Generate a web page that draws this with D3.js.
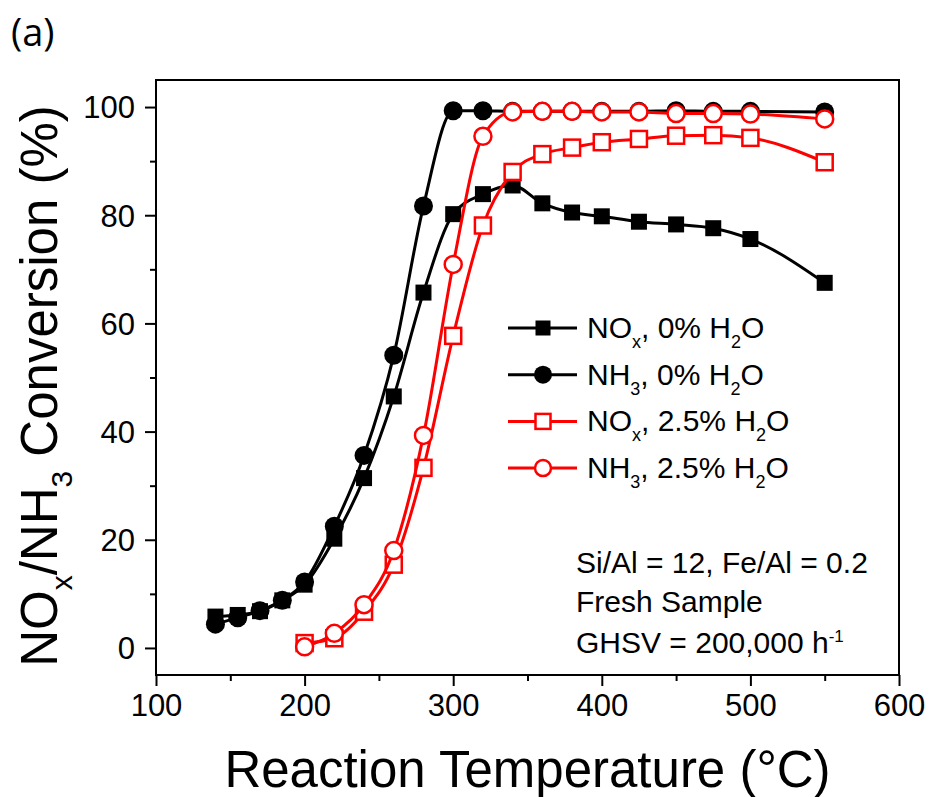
<!DOCTYPE html>
<html>
<head>
<meta charset="utf-8">
<script src="https://cdn.jsdelivr.net/npm/d3@7"></script>
<style>
  body { margin: 0; background: #fff; }
  text { font-family: "Liberation Sans", Arial, sans-serif; fill: #000; }
</style>
</head>
<body>
<div id="chart-area"></div>
<script>
// Data
const temps0 = [140, 155, 170, 185, 200, 220, 240, 260, 280, 300, 320, 340, 360, 380, 400, 425, 450, 475, 500, 550]
const noxDry = [5.8, 6.1, 6.8, 8.8, 11.7, 20.2, 31.4, 46.5, 65.7, 80.2, 83.9, 85.5, 82.2, 80.5, 79.8, 78.8, 78.3, 77.6, 75.6, 67.5]
const nh3Dry = [4.4, 5.6, 6.9, 8.8, 12.2, 22.5, 35.6, 54.1, 81.7, 99.3, 99.3, 99.2, 99.2, 99.2, 99.2, 99.2, 99.3, 99.2, 99.2, 99.1]

const temps25 = [200, 220, 240, 260, 280, 300, 320, 340, 360, 380, 400, 425, 450, 475, 500, 550]
const noxWet = [0.9, 1.8, 6.7, 15.4, 33.3, 57.7, 78.1, 88.0, 91.3, 92.5, 93.5, 94.1, 94.7, 94.8, 94.3, 89.8]
const nh3Wet = [0.2, 2.7, 8.0, 18.0, 39.3, 70.9, 94.6, 99.1, 99.2, 99.2, 99.1, 99.1, 98.8, 98.8, 98.7, 97.8]

const xTicks = [100, 200, 300, 400, 500, 600]
const xMinor = [150, 250, 350, 450, 550]
const yTicks = [0, 20, 40, 60, 80, 100]
const yMinor = [10, 30, 50, 70, 90]

// legend label pieces: [text, 'n' | 'sub']
const legendLabels = [
  [["NO", "n"], ["x", "sub"], [", 0% H", "n"], ["2", "sub"], ["O", "n"]],
  [["NH", "n"], ["3", "sub"], [", 0% H", "n"], ["2", "sub"], ["O", "n"]],
  [["NO", "n"], ["x", "sub"], [", 2.5% H", "n"], ["2", "sub"], ["O", "n"]],
  [["NH", "n"], ["3", "sub"], [", 2.5% H", "n"], ["2", "sub"], ["O", "n"]]
]

const series = [
  { x: temps0, y: noxDry, color: "#000", shape: "square", filled: true },
  { x: temps0, y: nh3Dry, color: "#000", shape: "circle", filled: true },
  { x: temps25, y: noxWet, color: "#ff0000", shape: "square", filled: false },
  { x: temps25, y: nh3Wet, color: "#ff0000", shape: "circle", filled: false }
]

const MARGIN = { LEFT: 156, RIGHT: 30, TOP: 80, BOTTOM: 122 }
const W = 929, H = 797
const WIDTH = W - MARGIN.LEFT - MARGIN.RIGHT
const HEIGHT = H - MARGIN.TOP - MARGIN.BOTTOM

const root = d3.select("#chart-area").append("svg")
  .attr("width", W)
  .attr("height", H)

const svg = root.append("g")
  .attr("transform", `translate(${MARGIN.LEFT},${MARGIN.TOP})`)

const x = d3.scaleLinear().domain([100, 600]).range([0, WIDTH])
const y = d3.scaleLinear().domain([-5, 105]).range([HEIGHT, 0])

// rich text helper (subscripts / superscripts)
function rich(sel, parts, size, subSize, shift) {
  let level = 0
  parts.forEach(([str, kind]) => {
    const target = kind === "sub" ? shift : kind === "sup" ? -shift : 0
    sel.append("tspan")
      .attr("dy", target - level)
      .style("font-size", (kind === "n" ? size : subSize) + "px")
      .text(str)
    level = target
  })
}

// axes
const xAxis = svg.append("g")
  .attr("transform", `translate(0,${HEIGHT})`)
  .call(d3.axisBottom(x).tickValues(xTicks).tickSize(11).tickSizeOuter(0).tickPadding(8))
xAxis.append("g")
  .call(d3.axisBottom(x).tickValues(xMinor).tickSize(6).tickFormat(""))
  .select(".domain").remove()

const yAxis = svg.append("g")
  .call(d3.axisLeft(y).tickValues(yTicks).tickSize(11).tickSizeOuter(0).tickPadding(10))
yAxis.append("g")
  .call(d3.axisLeft(y).tickValues(yMinor).tickSize(6).tickFormat(""))
  .select(".domain").remove()

svg.selectAll(".domain").remove()
svg.selectAll(".tick line").attr("stroke", "#000").attr("stroke-width", 2)
svg.selectAll(".tick text")
  .style("font-size", "31px")
  .style("font-family", "'Liberation Sans', Arial, sans-serif")
yAxis.selectAll(".tick text").attr("dy", "0.35em")

// frame
svg.append("rect")
  .attr("width", WIDTH)
  .attr("height", HEIGHT)
  .attr("fill", "none")
  .attr("stroke", "#000")
  .attr("stroke-width", 2)

// series
const line = d3.line()
  .x(d => x(d[0]))
  .y(d => y(d[1]))
  .curve(d3.curveMonotoneX)

function drawMarker(g, shape, filled, color, cx, cy, big) {
  const sq = big ? 16 : 15
  const r = big ? 9.5 : 9
  if (shape === "square") {
    g.append("rect")
      .attr("x", cx - sq / 2).attr("y", cy - sq / 2)
      .attr("width", sq).attr("height", sq)
      .attr("fill", filled ? color : "#fff")
      .attr("stroke", color)
      .attr("stroke-width", filled ? 0 : 2.5)
  } else {
    g.append("circle")
      .attr("cx", cx).attr("cy", cy).attr("r", filled ? r : r - 1)
      .attr("fill", filled ? color : "#fff")
      .attr("stroke", color)
      .attr("stroke-width", filled ? 0 : 2.5)
  }
}

series.forEach(s => {
  const pts = s.x.map((t, i) => [t, s.y[i]])
  const g = svg.append("g")
  g.append("path")
    .datum(pts)
    .attr("d", line)
    .attr("fill", "none")
    .attr("stroke", s.color)
    .attr("stroke-width", 3)
  pts.forEach(p => drawMarker(g, s.shape, s.filled, s.color, x(p[0]), y(p[1]), true))
})

// legend
const legend = root.append("g").attr("transform", "translate(508,328)")
series.forEach((s, i) => {
  const row = legend.append("g").attr("transform", `translate(0,${i * 46.7})`)
  row.append("line")
    .attr("x1", 0).attr("x2", 69)
    .attr("stroke", s.color)
    .attr("stroke-width", 3)
  drawMarker(row, s.shape, s.filled, s.color, 35, 0, false)
  const t = row.append("text").attr("x", 79).attr("y", 10)
  rich(t, legendLabels[i], 30, 18, 10)
})

// annotation
const note = root.append("g").style("font-size", "30px")
note.append("text").attr("x", 576).attr("y", 573).style("font-size", "30px").text("Si/Al = 12, Fe/Al = 0.2")
note.append("text").attr("x", 576).attr("y", 612).style("font-size", "30px").text("Fresh Sample")
const ghsv = note.append("text").attr("x", 576).attr("y", 653)
rich(ghsv, [["GHSV = 200,000 h", "n"], ["-1", "sup"]], 30, 17, 11)

// axis titles
root.append("text")
  .attr("x", MARGIN.LEFT + WIDTH / 2)
  .attr("y", 787)
  .attr("text-anchor", "middle")
  .style("font-size", "51px")
  .text("Reaction Temperature (°C)")

const yTitle = root.append("text")
  .attr("transform", "translate(57,386) rotate(-90)")
  .attr("text-anchor", "middle")
rich(yTitle, [["NO", "n"], ["x", "sub"], ["/NH", "n"], ["3", "sub"], [" Conversion (%)", "n"]], 51, 30, 15)

// panel label
root.append("text")
  .attr("x", 11)
  .attr("y", 46)
  .style("font-family", "'Open Sans', sans-serif")
  .style("font-size", "38px")
  .text("(a)")
</script>
</body>
</html>
